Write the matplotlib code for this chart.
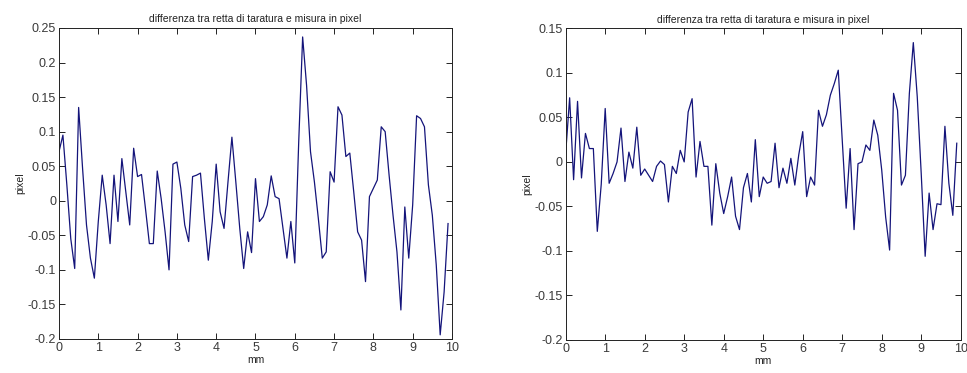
import numpy as np
import matplotlib
matplotlib.use('Agg')
import matplotlib.pyplot as plt
from matplotlib.ticker import FuncFormatter

plt.rcParams['font.family'] = ['Liberation Sans', 'DejaVu Sans']

# posizioni in mm (passo 0.1)
mm = np.arange(100) / 10.0

# differenza retta di taratura - misura, prima serie
diff_a = [0.071, 0.095, 0.023, -0.055, -0.098, 0.135, 0.047, -0.035, -0.083, -0.112,
          -0.030, 0.037, -0.006, -0.062, 0.037, -0.030, 0.061, 0.013, -0.035, 0.076,
          0.035, 0.038, -0.011, -0.062, -0.062, 0.043, 0.003, -0.045, -0.100, 0.053,
          0.056, 0.018, -0.035, -0.059, 0.035, 0.037, 0.040, -0.026, -0.086, -0.030,
          0.053, -0.016, -0.040, 0.027, 0.092, 0.027, -0.040, -0.098, -0.045, -0.075,
          0.032, -0.030, -0.023, -0.006, 0.036, 0.006, 0.003, -0.040, -0.083, -0.030,
          -0.090, 0.085, 0.237, 0.167, 0.071, 0.027, -0.026, -0.083, -0.074, 0.042,
          0.027, 0.136, 0.124, 0.064, 0.069, 0.013, -0.045, -0.057, -0.117, 0.006,
          0.018, 0.030, 0.107, 0.100, 0.037, -0.021, -0.074, -0.158, -0.009, -0.083,
          -0.006, 0.123, 0.119, 0.107, 0.023, -0.021, -0.093, -0.194, -0.132, -0.033]

# seconda serie
diff_b = [0.010, 0.072, -0.020, 0.068, -0.018, 0.032, 0.015, 0.015, -0.078, -0.025,
          0.060, -0.024, -0.013, 0.000, 0.038, -0.022, 0.011, -0.007, 0.039, -0.015,
          -0.008, -0.015, -0.022, -0.005, 0.001, -0.003, -0.045, -0.005, -0.013, 0.013,
          0.000, 0.056, 0.071, -0.017, 0.023, -0.005, -0.005, -0.071, -0.002, -0.035,
          -0.058, -0.039, -0.017, -0.061, -0.076, -0.029, -0.013, -0.045, 0.025, -0.039,
          -0.017, -0.024, -0.022, 0.021, -0.029, -0.007, -0.024, 0.004, -0.026, 0.008,
          0.034, -0.039, -0.017, -0.026, 0.058, 0.040, 0.053, 0.075, 0.088, 0.103,
          0.025, -0.052, 0.015, -0.076, -0.002, 0.000, 0.019, 0.013, 0.047, 0.030,
          -0.009, -0.062, -0.099, 0.077, 0.058, -0.026, -0.015, 0.077, 0.134, 0.073,
          -0.013, -0.106, -0.035, -0.076, -0.047, -0.048, 0.040, -0.024, -0.060, 0.021]

ylims = [(-0.2, 0.25), (-0.2, 0.15)]
titolo = 'differenza tra retta di taratura e misura in pixel'

fig = plt.figure(figsize=(9.67, 3.73), dpi=100)
ax1 = fig.add_axes([0.061, 0.0912, 0.4064, 0.8338])
ax2 = fig.add_axes([0.585, 0.0885, 0.4085, 0.8355])


def etichetta(v, pos):
    # stile matlab: 0.25, 0, -0.05
    v = round(v, 4)
    if abs(v) < 1e-9:
        return '0'
    return '%g' % v


fmt = FuncFormatter(etichetta)

for ax, serie, yl in zip([ax1, ax2], [diff_a, diff_b], ylims):
    ax.plot(mm, serie, color='#14147a', linewidth=0.9)
    ax.set_xlim(0, 10)
    ax.set_ylim(*yl)
    ax.set_xticks(np.arange(0, 11, 1))
    ax.set_yticks(np.round(np.arange(yl[0], yl[1] + 0.001, 0.05), 4))
    ax.yaxis.set_major_formatter(fmt)
    ax.xaxis.set_major_formatter(fmt)
    ax.tick_params(direction='in', top=True, right=True, length=4, width=0.6,
                   labelsize=9, labelcolor='#3a3a3a', pad=2)
    for s in ax.spines.values():
        s.set_linewidth(0.7)
        s.set_color('#222222')
    ax.set_title(titolo, fontsize=7.5, pad=4, color='#222222')
    ax.set_xlabel('mm', fontsize=7.5, labelpad=1, color='#222222')
    ax.set_ylabel('pixel', fontsize=7.5, labelpad=2, color='#222222')

fig.savefig('out.png', dpi=100, facecolor='white')
